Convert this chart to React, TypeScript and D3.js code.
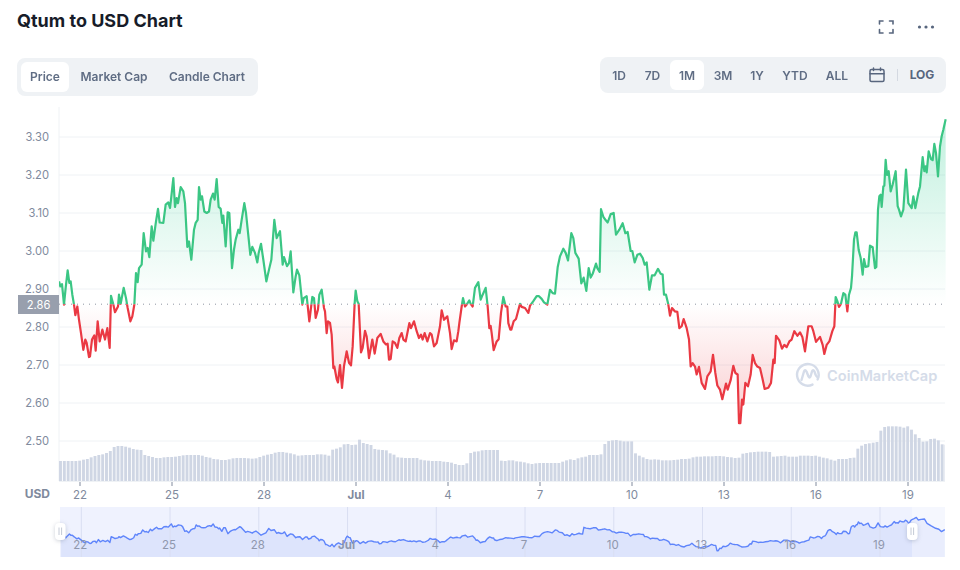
import React from "react";
import * as d3 from "d3";

// Price readings in three stretches. Time unit: 1/92 of a day, relative to each stretch's origin; 0 = 22 Jun.
const TICKS_PER_DAY = 92;
const stretchOrigins = [-90, 780, 1680];
const stretchATime = [27,31,36,42,47,53,58,62,67,72,76,82,87,93,100,106,110,117,120,126,133,137,143,149,157,165,172,179,183,190,195,204,207,212,221,228,233,241,247,253,258,263,267,275,281,288,293,298,305,310,318,324,329,340,347,355,360,363,370,375,380,384,392,400,405,412,417,424,432,437,443,447,452,456,463,470,477,482,489,494,500,506,512,517,520,527,533,538,546,552,557,565,569,575,583,588,601,607,615,622,626,633,640,649,657,664,673,680,690,698,702,711,717,722,730,737,741,748,757,761,770,778,787,792,797,804,808,815,822,825,830,834,840,845,850,853,860,864];
const stretchAPrice = [2.92,2.907,2.913,2.859,2.903,2.949,2.916,2.92,2.885,2.859,2.831,2.854,2.819,2.784,2.74,2.767,2.758,2.721,2.723,2.767,2.778,2.738,2.815,2.762,2.793,2.767,2.797,2.745,2.882,2.859,2.839,2.854,2.885,2.861,2.903,2.876,2.85,2.815,2.828,2.859,2.942,2.918,2.955,2.964,3.047,2.999,3.008,2.984,3.065,3.027,3.078,3.111,3.075,3.074,3.122,3.128,3.113,3.135,3.192,3.116,3.139,3.126,3.168,3.157,3.126,3.011,3.025,2.977,3.056,3.074,3.082,3.168,3.135,3.144,3.104,3.1,3.104,3.135,3.151,3.135,3.189,3.116,3.111,3.074,3.093,3.012,3.102,3.1,2.955,3.004,3.03,3.056,3.047,3.082,3.126,3.1,2.99,3.011,2.995,2.97,2.995,3.019,2.977,2.92,2.951,2.977,3.082,3.034,3.052,2.964,2.984,2.96,2.968,2.999,2.891,2.933,2.951,2.936,2.859,2.876,2.881,2.815,2.879,2.876,2.824,2.846,2.885,2.898,2.85,2.841,2.784,2.815,2.811,2.78,2.692,2.696,2.663,2.654];
const stretchBTime = [0,6,12,20,27,33,38,44,47,52,56,63,68,75,80,87,97,104,112,122,130,138,143,147,152,158,165,172,178,185,190,197,208,213,222,230,237,243,248,254,262,270,275,282,290,295,300,305,312,322,330,335,342,350,355,358,365,369,375,380,388,392,398,405,415,422,428,437,443,448,452,455,461,470,476,483,490,497,502,505,511,514,521,528,540,545,555,565,570,580,590,597,605,612,622,630,638,645,653,660,670,677,684,694,700,706,716,724,731,739,746,752,758,768,772,779,783,790,798,803,812,821,828,838,848,856,863,872,877,884,892];
const stretchBPrice = [2.7,2.64,2.697,2.736,2.706,2.699,2.749,2.863,2.896,2.868,2.861,2.733,2.745,2.79,2.775,2.718,2.767,2.73,2.771,2.782,2.762,2.754,2.756,2.714,2.716,2.762,2.758,2.745,2.771,2.784,2.767,2.762,2.81,2.797,2.815,2.789,2.771,2.78,2.767,2.784,2.762,2.784,2.78,2.749,2.758,2.78,2.802,2.844,2.819,2.828,2.784,2.742,2.765,2.762,2.789,2.81,2.854,2.876,2.854,2.859,2.87,2.861,2.854,2.903,2.918,2.872,2.885,2.903,2.854,2.797,2.803,2.784,2.739,2.762,2.768,2.837,2.879,2.854,2.854,2.81,2.793,2.793,2.815,2.821,2.861,2.853,2.85,2.837,2.856,2.868,2.881,2.881,2.874,2.865,2.859,2.898,2.889,2.888,2.957,2.986,3.006,2.995,2.975,3.047,3.034,2.995,2.98,2.915,2.93,2.895,2.955,2.93,2.94,2.967,2.955,2.945,3.11,3.09,3.08,3.075,3.097,3.1,3.043,3.056,3.073,3.047,3.05,3.0,3.0,2.97,2.99];
const stretchCTime = [0,8,14,20,28,36,44,54,62,68,72,78,85,90,96,105,112,118,125,131,140,147,152,158,165,170,177,185,195,202,212,219,226,232,240,247,258,263,272,280,286,293,297,301,306,310,316,324,332,338,345,352,360,367,374,385,393,400,404,408,418,426,433,440,448,455,463,472,480,487,495,505,515,520,528,540,548,553,560,568,577,583,587,592,597,603,610,616,622,627,633,636,642,646,650,656,662,668,672,677,685,690,698,705,709,714,718,722,725,730,733,737,741,746,752,758,767,773,777,783,790,798,805,815,820,826,835,840,848,853,857,860,866,873,878,883,888,894,900,905,910,917];
const stretchCPrice = [2.993,2.982,2.964,2.97,2.898,2.936,2.936,2.953,2.94,2.938,2.885,2.885,2.859,2.83,2.85,2.841,2.84,2.797,2.802,2.821,2.797,2.767,2.696,2.705,2.696,2.675,2.695,2.653,2.637,2.67,2.683,2.727,2.679,2.646,2.635,2.61,2.651,2.635,2.66,2.698,2.679,2.675,2.547,2.547,2.609,2.596,2.653,2.644,2.675,2.727,2.705,2.696,2.692,2.666,2.637,2.64,2.653,2.714,2.705,2.777,2.765,2.743,2.753,2.747,2.762,2.767,2.789,2.777,2.786,2.774,2.736,2.802,2.802,2.789,2.761,2.774,2.753,2.729,2.753,2.762,2.789,2.802,2.879,2.868,2.853,2.861,2.889,2.885,2.841,2.885,2.903,2.933,3.03,3.049,3.049,3.003,2.982,2.938,2.979,2.958,2.96,3.014,3.01,2.955,2.958,3.109,3.144,3.148,3.116,3.17,3.172,3.24,3.2,3.21,3.157,3.175,3.21,3.118,3.109,3.091,3.109,3.214,3.126,3.113,3.144,3.113,3.153,3.17,3.247,3.21,3.223,3.207,3.262,3.242,3.239,3.282,3.258,3.196,3.275,3.302,3.319,3.347];
// Overview strip continues after the main window (days since 22 Jun).
const overviewExtraDays = [28.29,28.39,28.5,28.59,28.73,28.88,28.99,29.08,29.19];
const overviewExtraPrice = [3.286,3.3,3.31,3.206,3.142,3.086,3.062,3.006,3.054];

// Volume per 3-hour bar, arbitrary units.
const VOLUME_START_DAY = -0.636;
const BARS_PER_DAY = 8;
const volumes = [60,60,60,60,60,61,64,66,71,75,78,80,84,90,102,105,105,103,100,96,94,93,78,75,72,69,69,71,72,72,73,75,77,78,78,78,78,76,72,70,66,65,63,63,65,68,69,69,69,68,67,68,72,76,79,81,85,87,87,85,83,80,76,77,78,78,78,80,80,79,76,94,97,101,110,111,108,109,
124,114,111,108,96,94,93,92,83,79,71,70,69,69,69,69,64,62,61,60,60,60,58,57,55,51,48,48,53,84,88,89,92,93,93,93,93,61,60,62,62,59,58,56,53,51,53,54,54,54,54,54,54,58,62,65,63,68,71,73,78,78,78,80,111,120,122,123,121,119,119,119,83,76,71,66,64,
65,64,62,62,62,63,64,66,66,67,71,73,73,74,74,74,75,75,74,72,71,69,70,82,84,86,87,88,88,88,87,73,74,75,76,73,73,73,76,76,76,75,76,73,70,68,64,61,66,66,66,69,70,97,106,111,113,115,117,151,162,164,164,164,163,160,164,154,140,129,118,119,126,127,122,110,109];

const yTicks = [3.3,3.2,3.1,3.0,2.9,2.8,2.7,2.6,2.5];
const BASE_PRICE = 2.86;
const tickDays = [0,3,6,9,12,15,18,21,24,27];
const tickLabels = ["22","25","28","Jul","4","7","10","13","16","19"];
const chartTabs = ["Price","Market Cap","Candle Chart"];
const tabCenters = [45,114,207];
const rangeTabs = ["1D","7D","1M","3M","1Y","YTD","ALL"];
const rangeCenters = [619,652.5,687,723,757,795,837];

const series: [number, number][] = [
  ...stretchATime.map((t, i) => [(t + stretchOrigins[0]) / TICKS_PER_DAY, stretchAPrice[i]] as [number, number]),
  ...stretchBTime.map((t, i) => [(t + stretchOrigins[1]) / TICKS_PER_DAY, stretchBPrice[i]] as [number, number]),
  ...stretchCTime.map((t, i) => [(t + stretchOrigins[2]) / TICKS_PER_DAY, stretchCPrice[i]] as [number, number]),
];
const overview: [number, number][] = [...series, ...overviewExtraDays.map((d, i) => [d, overviewExtraPrice[i]] as [number, number])];

const LEFT = 59, RIGHT = 945, AXIS_Y = 481;
const x = d3.scaleLinear().domain([0, 27]).range([80, 908]);
const y = d3.scaleLinear().domain([2.5, 3.3]).range([441, 137]);
const vy = d3.scaleLinear().domain([0, 180]).range([AXIS_Y, AXIS_Y - 60]);
const nx = d3.scaleLinear().domain([0, 27]).range([81.3, 880]);
const ny = d3.scaleLinear().domain([2.547, 3.35]).range([550.7, 517.3]);
const NAV_TOP = 507, NAV_BOTTOM = 557, NAV_LEFT = 60, NAV_HANDLE = 912, NAV_RIGHT = 945;

const FONT = "Inter, 'Noto Sans', sans-serif";
const GRID = "#eff2f5";
const MUTED = "#808a9d";
const SLATE = "#58667e";
const baseY = y(BASE_PRICE);

const priceLine = d3.line<[number, number]>().x(d => x(d[0])).y(d => y(d[1]))(series)!;
const priceArea = d3.area<[number, number]>().x(d => x(d[0])).y0(baseY).y1(d => y(d[1]))(series)!;
const navLine = d3.line<[number, number]>().x(d => nx(d[0])).y(d => ny(d[1]))(overview)!;
const navArea = d3.area<[number, number]>().x(d => nx(d[0])).y0(NAV_BOTTOM).y1(d => ny(d[1]))(overview)!;

function Handle({ cx }: { cx: number }) {
  return (
    <g>
      <rect x={cx - 5.3} y={523} width={10.6} height={17} rx={4} fill="#fff" style={{ filter: "drop-shadow(0 1px 2px rgba(88,102,126,0.3))" }} />
      <line x1={cx - 1.3} x2={cx - 1.3} y1={527.5} y2={535} stroke="#c4cad6" strokeWidth={1} />
      <line x1={cx + 1.3} x2={cx + 1.3} y1={527.5} y2={535} stroke="#c4cad6" strokeWidth={1} />
    </g>
  );
}

export default function App() {
  return (
    <svg width={960} height={570} viewBox="0 0 960 570" style={{ position: "fixed", left: 0, top: 0, background: "#fff", fontFamily: FONT }}>
      <defs>
        <linearGradient id="upFill" gradientUnits="userSpaceOnUse" x1={0} x2={0} y1={118} y2={baseY}>
          <stop offset="0" stopColor="#16c784" stopOpacity={0.27} />
          <stop offset="1" stopColor="#16c784" stopOpacity={0} />
        </linearGradient>
        <linearGradient id="downFill" gradientUnits="userSpaceOnUse" x1={0} x2={0} y1={baseY} y2={424}>
          <stop offset="0" stopColor="#ea3943" stopOpacity={0} />
          <stop offset="1" stopColor="#ea3943" stopOpacity={0.26} />
        </linearGradient>
        <clipPath id="above"><rect x={LEFT} y={100} width={RIGHT - LEFT + 2} height={baseY - 100} /></clipPath>
        <clipPath id="below"><rect x={LEFT} y={baseY} width={RIGHT - LEFT + 2} height={AXIS_Y - baseY} /></clipPath>
        <clipPath id="plot"><rect x={LEFT} y={100} width={RIGHT - LEFT} height={AXIS_Y - 100} /></clipPath>
        <clipPath id="navSel"><rect x={NAV_LEFT} y={NAV_TOP} width={NAV_HANDLE - NAV_LEFT} height={NAV_BOTTOM - NAV_TOP} /></clipPath>
      </defs>

      <text x={17} y={26.5} fontSize={18} fontWeight={700} fill="#171c29">Qtum to USD Chart</text>

      {/* icons top right */}
      <g fill="none" stroke={SLATE} strokeWidth={1.6} strokeLinecap="round">
        <path d="M879.5 24 V21 H883 M889.5 21 H893 V24 M893 29.5 V33 H889.5 M883 33 H879.5 V29.5" />
      </g>
      <g fill={SLATE}>
        <circle cx={919.5} cy={27} r={1.6} /><circle cx={926} cy={27} r={1.6} /><circle cx={932.5} cy={27} r={1.6} />
      </g>

      {/* chart type tabs */}
      <rect x={17} y={58} width={241} height={38} rx={8} fill={GRID} />
      <rect x={21} y={62} width={48} height={30} rx={6} fill="#fff" />
      {chartTabs.map((t, i) => (
        <text key={t} x={tabCenters[i]} y={81} textAnchor="middle" fontSize={12} fontWeight={600} fill={SLATE} opacity={0.95}>{t}</text>
      ))}

      {/* range tabs */}
      <rect x={600} y={57} width={346} height={36} rx={8} fill={GRID} />
      <rect x={670} y={60} width={34} height={30} rx={6} fill="#fff" />
      {rangeTabs.map((t, i) => (
        <text key={t} x={rangeCenters[i]} y={80} textAnchor="middle" fontSize={12} fontWeight={600} fill={SLATE} opacity={0.95}>{t}</text>
      ))}
      <g fill="none" stroke={SLATE} strokeWidth={1.5} strokeLinecap="round">
        <rect x={870} y={69.5} width={14} height={12} rx={1.5} />
        <path d="M870 73.8 H884 M873.5 68 V70.5 M880.5 68 V70.5" />
      </g>
      <line x1={897.5} x2={897.5} y1={69} y2={81} stroke="#d4d9e1" />
      <text x={922} y={79} textAnchor="middle" fontSize={12} fontWeight={700} fill={SLATE}>LOG</text>

      {/* grid */}
      <line x1={LEFT} x2={LEFT} y1={107} y2={AXIS_Y} stroke={GRID} />
      {yTicks.map(v => (
        <g key={v}>
          <line x1={LEFT} x2={RIGHT} y1={y(v)} y2={y(v)} stroke={GRID} />
          <text x={49} y={y(v) + 4} textAnchor="end" fontSize={11.2} fill={MUTED}>{v.toFixed(2)}</text>
        </g>
      ))}

      {/* watermark */}
      <g fill="none" stroke="#d5dce9" strokeWidth={2.4} strokeLinecap="round" strokeLinejoin="round">
        <path d="M817.6 379.5 A10.8 10.8 0 1 0 812.5 384.6" />
        <path d="M801.5 380 L804 371.5 Q805 369 806.5 371.5 L808.5 376.5 Q809.5 378.5 810.5 376.5 L812 371.5 Q813 369 814.5 371.5 Q815.5 376 818 377.5" />
      </g>
      <text x={827} y={381} fontSize={14.6} fontWeight={600} fill="#d5dce9">CoinMarketCap</text>

      {/* volume */}
      <g clipPath="url(#plot)">
        {volumes.map((v, i) => {
          const cx = x(VOLUME_START_DAY + i / BARS_PER_DAY);
          return <rect key={i} x={cx - 1.45} y={vy(v)} width={2.9} height={AXIS_Y - vy(v)} fill="#cfd6e4" />;
        })}
      </g>
      <line x1={LEFT} x2={RIGHT} y1={AXIS_Y + 0.5} y2={AXIS_Y + 0.5} stroke={GRID} />

      {/* price */}
      <path d={priceArea} fill="url(#upFill)" clipPath="url(#above)" />
      <path d={priceArea} fill="url(#downFill)" clipPath="url(#below)" />
      <path d={priceLine} fill="none" stroke="#3bc684" strokeWidth={2.2} strokeLinejoin="round" clipPath="url(#above)" />
      <path d={priceLine} fill="none" stroke="#ea3943" strokeWidth={2.2} strokeLinejoin="round" clipPath="url(#below)" />
      <line x1={LEFT} x2={RIGHT} y1={baseY} y2={baseY} stroke="#8e95a3" strokeWidth={1} strokeDasharray="1 5" />
      <rect x={18} y={295} width={41} height={19} fill="#989fad" />
      <text x={38.5} y={308.5} textAnchor="middle" fontSize={11.2} fill="#fff">{BASE_PRICE.toFixed(2)}</text>

      {/* x axis */}
      {tickDays.map((d, i) => (
        <g key={d}>
          <line x1={x(d)} x2={x(d)} y1={AXIS_Y + 1} y2={AXIS_Y + 5} stroke={MUTED} />
          <text x={x(d)} y={499} textAnchor="middle" fontSize={11.5} fontWeight={tickLabels[i] === "Jul" ? 700 : 400} fill={MUTED}>{tickLabels[i]}</text>
        </g>
      ))}
      <text x={50} y={498} textAnchor="end" fontSize={12} fontWeight={700} fill={MUTED}>USD</text>

      {/* overview */}
      <rect x={NAV_LEFT} y={NAV_TOP} width={NAV_RIGHT - NAV_LEFT} height={NAV_BOTTOM - NAV_TOP} fill="#f5f7fe" />
      <rect x={NAV_LEFT} y={NAV_TOP} width={NAV_HANDLE - NAV_LEFT} height={NAV_BOTTOM - NAV_TOP} fill="#eff2fe" />
      <path d={navArea} fill="#e9edfd" />
      <path d={navArea} fill="#dde4fc" clipPath="url(#navSel)" />
      {tickDays.map(d => (
        <line key={d} x1={nx(d)} x2={nx(d)} y1={NAV_TOP} y2={NAV_BOTTOM} stroke="#d9def2" />
      ))}
      <path d={navLine} fill="none" stroke="#5f85fb" strokeWidth={1.4} strokeLinejoin="round" />
      {tickDays.map((d, i) => (
        <text key={d} x={nx(d) - 1} y={549} textAnchor="middle" fontSize={11.5} fontWeight={tickLabels[i] === "Jul" ? 700 : 400} fill="#8f97ad">{tickLabels[i]}</text>
      ))}
      <Handle cx={60.3} />
      <Handle cx={912.3} />
    </svg>
  );
}
